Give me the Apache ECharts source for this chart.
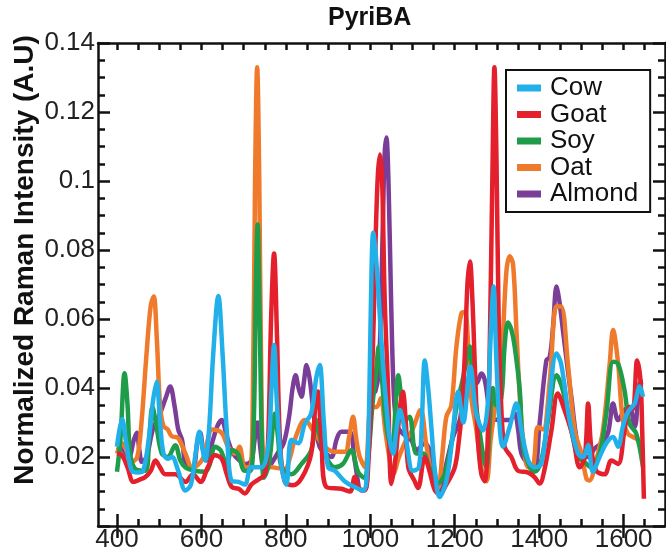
<!DOCTYPE html>
<html>
<head>
<meta charset="utf-8">
<script src="https://cdn.jsdelivr.net/npm/echarts@6/dist/echarts.min.js"></script>
<style>
  html, body { margin: 0; padding: 0; background: #fff; }
  #chart { width: 666px; height: 560px; }
</style>
</head>
<body>
<div id="chart"></div>
<script>
// Raman shift (cm-1) vs normalized intensity
const seriesNames = ['Cow', 'Goat', 'Soy', 'Oat', 'Almond'];
const seriesColors = ['#22b0ea', '#e3202b', '#1f9c4a', '#f07a2b', '#7b3e98'];
const majorTicks = [400, 600, 800, 1000, 1200, 1400, 1600];
const minorTicks = [400, 450, 500, 550, 600, 650, 700, 750, 800, 850, 900, 950, 1000,
  1050, 1100, 1150, 1200, 1250, 1300, 1350, 1400, 1450, 1500, 1550, 1600, 1650];
const yName = 'Normalized Raman Intensity (A.U)';

const cow = [
  [400, 0.023], [412, 0.031], [422, 0.024], [435, 0.016], [450, 0.0155], [462, 0.016],
  [475, 0.025], [485, 0.036], [494, 0.0418], [502, 0.03], [510, 0.021], [520, 0.0195],
  [530, 0.020], [545, 0.016], [562, 0.0103], [575, 0.012], [585, 0.02], [595, 0.0273],
  [603, 0.022], [609, 0.019], [618, 0.028], [628, 0.05], [640, 0.0667], [650, 0.05],
  [660, 0.0277], [672, 0.013], [688, 0.0128], [703, 0.012], [718, 0.017], [742, 0.017],
  [758, 0.023], [766, 0.04], [772, 0.0525], [779, 0.035], [790, 0.017], [801, 0.012],
  [813, 0.025], [829, 0.024], [845, 0.0297], [860, 0.0326], [872, 0.043], [880, 0.0467],
  [890, 0.03], [900, 0.017], [916, 0.016], [939, 0.013], [963, 0.0113], [983, 0.0103],
  [992, 0.015], [998, 0.04], [1003, 0.075], [1007, 0.085], [1012, 0.08], [1018, 0.07],
  [1022, 0.062], [1030, 0.047], [1038, 0.035], [1046, 0.025], [1054, 0.021], [1062, 0.028],
  [1070, 0.0336], [1078, 0.03], [1085, 0.0249], [1101, 0.016], [1115, 0.017], [1122, 0.03],
  [1129, 0.048], [1137, 0.04], [1145, 0.028], [1153, 0.016], [1164, 0.0084], [1180, 0.013],
  [1193, 0.024], [1208, 0.039], [1220, 0.030], [1237, 0.0462], [1251, 0.0326], [1267, 0.0277],
  [1278, 0.035], [1285, 0.055], [1292, 0.0694], [1298, 0.05], [1306, 0.0297], [1314, 0.023],
  [1330, 0.0287], [1346, 0.0355], [1358, 0.0277], [1374, 0.019], [1389, 0.017], [1405, 0.018],
  [1421, 0.0326], [1441, 0.05], [1452, 0.047], [1472, 0.0307], [1492, 0.021], [1504, 0.020],
  [1516, 0.0234], [1527, 0.0157], [1543, 0.020], [1559, 0.024], [1575, 0.0258], [1587, 0.023],
  [1598, 0.0287], [1610, 0.033], [1626, 0.0355], [1638, 0.0404], [1646, 0.0375]
];

const goat = [
  [400, 0.021], [412, 0.0205], [425, 0.017], [439, 0.0128], [455, 0.0135], [467, 0.0142],
  [480, 0.016], [491, 0.019], [502, 0.017], [514, 0.015], [538, 0.015], [562, 0.0128],
  [580, 0.015], [598, 0.0128], [615, 0.017], [632, 0.0205], [648, 0.0195], [660, 0.015],
  [672, 0.0113], [688, 0.0108], [703, 0.0094], [718, 0.012], [735, 0.0135], [750, 0.015],
  [758, 0.025], [765, 0.06], [772, 0.079], [779, 0.055], [786, 0.025], [797, 0.013],
  [817, 0.0118], [838, 0.014], [860, 0.021], [870, 0.035], [876, 0.039], [884, 0.025],
  [896, 0.0113], [931, 0.0108], [952, 0.010], [963, 0.0142], [972, 0.011], [987, 0.0103],
  [996, 0.02], [1003, 0.04], [1008, 0.06], [1013, 0.085], [1018, 0.102], [1023, 0.1077],
  [1028, 0.10], [1034, 0.066], [1042, 0.04], [1050, 0.0122], [1060, 0.02], [1070, 0.034],
  [1077, 0.0389], [1084, 0.03], [1090, 0.017], [1105, 0.013], [1113, 0.011], [1129, 0.020],
  [1140, 0.016], [1153, 0.0103], [1164, 0.0093], [1180, 0.012], [1200, 0.017], [1210, 0.025],
  [1216, 0.0326], [1224, 0.05], [1230, 0.07], [1236, 0.0767], [1242, 0.065], [1248, 0.045],
  [1255, 0.025], [1263, 0.015], [1271, 0.013], [1278, 0.025], [1284, 0.06], [1289, 0.10],
  [1294, 0.133], [1299, 0.105], [1304, 0.06], [1310, 0.035], [1318, 0.023], [1334, 0.020],
  [1350, 0.016], [1374, 0.0155], [1389, 0.0142], [1401, 0.0123], [1412, 0.016], [1429, 0.0277],
  [1444, 0.0384], [1460, 0.0336], [1480, 0.0258], [1496, 0.017], [1508, 0.02], [1516, 0.0355],
  [1523, 0.023], [1535, 0.016], [1555, 0.015], [1571, 0.019], [1587, 0.018], [1602, 0.0277],
  [1614, 0.0345], [1622, 0.034], [1632, 0.048], [1640, 0.042], [1644, 0.0277], [1648, 0.0079]
];

const soy = [
  [400, 0.0157], [408, 0.025], [418, 0.0443], [425, 0.035], [431, 0.021], [443, 0.0166],
  [467, 0.016], [476, 0.025], [484, 0.0345], [492, 0.03], [506, 0.021], [520, 0.02],
  [538, 0.0234], [550, 0.019], [562, 0.017], [585, 0.016], [609, 0.0157], [620, 0.018],
  [632, 0.023], [645, 0.022], [660, 0.018], [672, 0.022], [686, 0.021], [703, 0.016],
  [716, 0.016], [724, 0.03], [729, 0.07], [733, 0.0874], [738, 0.06], [743, 0.025],
  [748, 0.014], [760, 0.018], [774, 0.0326], [782, 0.025], [790, 0.017], [813, 0.015],
  [837, 0.018], [860, 0.022], [872, 0.0307], [882, 0.025], [895, 0.02], [916, 0.017],
  [935, 0.018], [955, 0.022], [971, 0.0157], [985, 0.014], [995, 0.02], [1005, 0.035],
  [1014, 0.045], [1020, 0.052], [1026, 0.045], [1035, 0.032], [1045, 0.024], [1052, 0.023],
  [1060, 0.035], [1066, 0.0437], [1075, 0.036], [1085, 0.031], [1093, 0.0317], [1109, 0.021],
  [1125, 0.021], [1140, 0.017], [1160, 0.0123], [1176, 0.015], [1192, 0.024], [1204, 0.0345],
  [1218, 0.042], [1231, 0.05], [1236, 0.052], [1243, 0.042], [1256, 0.03], [1268, 0.02],
  [1275, 0.017], [1283, 0.03], [1290, 0.04], [1298, 0.035], [1310, 0.037], [1318, 0.052],
  [1326, 0.059], [1334, 0.057], [1342, 0.052], [1354, 0.0394], [1362, 0.023], [1378, 0.017],
  [1389, 0.0157], [1405, 0.019], [1421, 0.0307], [1441, 0.0437], [1456, 0.0394], [1476, 0.0277],
  [1492, 0.020], [1508, 0.0185], [1523, 0.017], [1543, 0.021], [1559, 0.0326], [1575, 0.0476],
  [1587, 0.047], [1602, 0.0394], [1614, 0.0297], [1630, 0.0268], [1646, 0.017]
];

const oat = [
  [400, 0.021], [412, 0.024], [422, 0.022], [435, 0.0186], [448, 0.02], [458, 0.03],
  [470, 0.05], [480, 0.064], [487, 0.0665], [494, 0.055], [502, 0.035], [510, 0.029],
  [520, 0.028], [530, 0.026], [545, 0.0255], [562, 0.021], [578, 0.017], [590, 0.0175],
  [605, 0.02], [615, 0.025], [625, 0.028], [648, 0.027], [663, 0.023], [680, 0.021],
  [690, 0.023], [703, 0.017], [715, 0.017], [722, 0.04], [727, 0.10], [732, 0.133],
  [737, 0.10], [742, 0.04], [748, 0.018], [770, 0.017], [797, 0.0166], [810, 0.02],
  [821, 0.025], [845, 0.0307], [868, 0.027], [892, 0.023], [916, 0.0215], [940, 0.0215],
  [950, 0.026], [959, 0.0317], [967, 0.025], [975, 0.02], [988, 0.017], [1002, 0.0345],
  [1015, 0.0345], [1025, 0.037], [1035, 0.028], [1045, 0.02], [1054, 0.015], [1068, 0.02],
  [1085, 0.025], [1100, 0.028], [1119, 0.0336], [1132, 0.024], [1145, 0.015], [1160, 0.011],
  [1170, 0.02], [1180, 0.0316], [1192, 0.035], [1204, 0.052], [1216, 0.0617], [1224, 0.062],
  [1232, 0.052], [1239, 0.0374], [1251, 0.028], [1263, 0.017], [1275, 0.013], [1285, 0.025],
  [1296, 0.035], [1310, 0.047], [1322, 0.0733], [1330, 0.0782], [1338, 0.076], [1346, 0.057],
  [1354, 0.0374], [1362, 0.025], [1374, 0.017], [1386, 0.0175], [1397, 0.0287], [1409, 0.028],
  [1425, 0.042], [1441, 0.0636], [1452, 0.0636], [1468, 0.047], [1484, 0.0277], [1500, 0.021],
  [1512, 0.0137], [1519, 0.0132], [1535, 0.019], [1551, 0.0277], [1567, 0.047], [1575, 0.0568],
  [1587, 0.047], [1598, 0.0307], [1610, 0.0268], [1622, 0.0258], [1634, 0.0249], [1646, 0.022]
];

const almond = [
  [400, 0.023], [415, 0.022], [428, 0.02], [440, 0.025], [447, 0.027], [453, 0.022],
  [459, 0.0186], [470, 0.02], [485, 0.028], [502, 0.0326], [515, 0.037], [526, 0.0404],
  [536, 0.035], [545, 0.028], [554, 0.025], [565, 0.017], [580, 0.017], [590, 0.024],
  [597, 0.027], [604, 0.022], [612, 0.019], [625, 0.024], [638, 0.029], [648, 0.0307],
  [660, 0.026], [675, 0.021], [690, 0.019], [705, 0.018], [718, 0.019], [726, 0.025],
  [733, 0.03], [740, 0.022], [750, 0.016], [765, 0.018], [780, 0.021], [795, 0.024],
  [808, 0.032], [816, 0.04], [823, 0.0437], [830, 0.04], [837, 0.0375], [843, 0.042],
  [849, 0.0467], [856, 0.043], [868, 0.0307], [880, 0.023], [895, 0.021], [908, 0.020],
  [920, 0.025], [931, 0.0273], [951, 0.0273], [963, 0.019], [979, 0.0103], [990, 0.011],
  [998, 0.03], [1003, 0.038], [1012, 0.039], [1020, 0.045], [1026, 0.068], [1031, 0.095],
  [1034, 0.108], [1038, 0.1126], [1043, 0.10], [1049, 0.0665], [1056, 0.0374], [1064, 0.029],
  [1075, 0.027], [1090, 0.0255], [1097, 0.0249], [1110, 0.022], [1129, 0.024], [1145, 0.02],
  [1164, 0.0093], [1180, 0.018], [1196, 0.0258], [1212, 0.0307], [1227, 0.0423], [1243, 0.0413],
  [1251, 0.0413], [1263, 0.0442], [1271, 0.0423], [1287, 0.0317], [1306, 0.0307], [1330, 0.0307],
  [1342, 0.0326], [1350, 0.028], [1358, 0.021], [1374, 0.018], [1389, 0.017], [1401, 0.0297],
  [1417, 0.048], [1425, 0.049], [1433, 0.058], [1441, 0.0694], [1448, 0.065], [1456, 0.057],
  [1476, 0.0375], [1496, 0.021], [1516, 0.020], [1531, 0.0224], [1547, 0.024], [1563, 0.027],
  [1575, 0.0355], [1587, 0.0307], [1602, 0.0336], [1614, 0.0345], [1626, 0.0287], [1638, 0.0413],
  [1646, 0.0418]
];

const seriesData = [cow, goat, soy, oat, almond];

const FONT = "'Liberation Sans', Arial, Helvetica, sans-serif";
const INK = '#111';

const chart = echarts.init(document.getElementById('chart'), null, { renderer: 'canvas' });

const xBase = {
  type: 'value',
  min: 355,
  max: 1698,
  splitLine: { show: false },
  axisLine: { show: true, onZero: false, lineStyle: { color: INK, width: 2.5 } },
};

const yBase = {
  type: 'value',
  min: 0,
  max: 0.14,
  interval: 0.02,
  splitLine: { show: false },
  minorSplitLine: { show: false },
  axisLine: { show: true, onZero: false, lineStyle: { color: INK, width: 2.5 } },
  axisTick: { show: true, inside: true, length: 12, lineStyle: { color: INK, width: 2.5 } },
  minorTick: { show: true, splitNumber: 4, length: 7, lineStyle: { color: INK, width: 2.5 } },
};

// line order so Cow ends up drawn on top, legend keeps the figure's order
const drawOrder = [4, 3, 2, 1, 0];

const option = {
  animation: false,
  backgroundColor: '#fff',
  title: {
    text: 'PyriBA',
    left: 328,
    top: 6,
    padding: 0,
    textStyle: { fontFamily: FONT, fontSize: 25, fontWeight: 'bold', color: INK },
  },
  // y axis title, placed by hand so it sits where the figure has it
  graphic: [
    {
      type: 'text',
      x: 25,
      y: 260,
      rotation: Math.PI / 2,
      style: {
        text: yName,
        fill: INK,
        font: 'bold 28px ' + FONT,
        align: 'center',
        verticalAlign: 'middle',
      },
    },
  ],
  legend: {
    data: seriesNames,
    orient: 'vertical',
    left: 506,
    top: 70,
    padding: [5, 12, 5, 11],
    itemGap: 0.5,
    itemWidth: 24,
    itemHeight: 7,
    icon: 'rect',
    itemStyle: { borderWidth: 0 },
    borderColor: INK,
    borderWidth: 2,
    backgroundColor: '#fff',
    textStyle: { fontFamily: FONT, fontSize: 26, color: INK, padding: [0, 0, 0, 4] },
  },
  grid: {
    left: 98,
    top: 43,
    right: 1,
    bottom: 34,
    outerBoundsMode: 'none',
  },
  xAxis: [
    Object.assign({}, xBase, {
      position: 'bottom',
      axisTick: { show: true, inside: true, length: 7, customValues: minorTicks, lineStyle: { color: INK, width: 2.5 } },
      axisLabel: {
        show: true,
        customValues: majorTicks,
        margin: 1,
        fontFamily: FONT,
        fontSize: 26,
        color: '#222',
        formatter: (v) => String(v),
      },
    }),
    Object.assign({}, xBase, {
      position: 'bottom',
      axisLine: { show: false },
      axisTick: { show: true, inside: true, length: 12, customValues: majorTicks, lineStyle: { color: INK, width: 2.5 } },
      axisLabel: { show: false },
    }),
    Object.assign({}, xBase, {
      position: 'top',
      axisTick: { show: true, inside: true, length: 7, customValues: minorTicks, lineStyle: { color: INK, width: 2.5 } },
      axisLabel: { show: false },
    }),
    Object.assign({}, xBase, {
      position: 'top',
      axisLine: { show: false },
      axisTick: { show: true, inside: true, length: 12, customValues: majorTicks, lineStyle: { color: INK, width: 2.5 } },
      axisLabel: { show: false },
    }),
  ],
  yAxis: [
    Object.assign({}, yBase, {
      position: 'left',
      axisLabel: {
        margin: 3,
        fontFamily: FONT,
        fontSize: 26,
        color: '#222',
        formatter: (v) => (v === 0 ? '' : String(parseFloat(v.toFixed(2)))),
      },
    }),
    Object.assign({}, yBase, {
      position: 'right',
      axisLabel: { show: false },
    }),
  ],
  series: drawOrder.map((i) => ({
    name: seriesNames[i],
    type: 'line',
    xAxisIndex: 0,
    yAxisIndex: 0,
    data: seriesData[i],
    smooth: 0.35,
    showSymbol: false,
    symbol: 'none',
    color: seriesColors[i],
    lineStyle: { color: seriesColors[i], width: 4.5 },
    itemStyle: { color: seriesColors[i] },
    emphasis: { disabled: true },
  })),
};

chart.setOption(option);
</script>
</body>
</html>
